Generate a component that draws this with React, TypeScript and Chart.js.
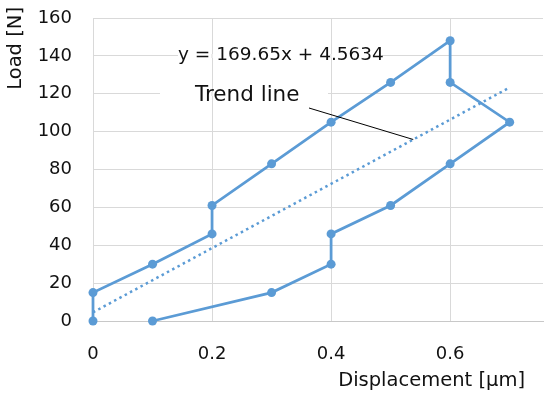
import React, { useEffect, useRef } from "react";
import { Chart, registerables } from "chart.js";

Chart.register(...registerables);

// ---- Data ----
const displacement = [0, 0, 0.1, 0.2, 0.2, 0.3, 0.4, 0.5, 0.6, 0.6, 0.7, 0.6, 0.5, 0.4, 0.4, 0.3, 0.1];
const load = [0, 15, 30, 46, 61, 83, 105, 126, 148, 126, 105, 83, 61, 46, 30, 15, 0];
const trendSlope = 169.65;
const trendIntercept = 4.5634;
const trendRange = [0, 0.7];
const leaderAnchorX = 0.538;
const xTicks = [0, 0.2, 0.4, 0.6];
const xMin = 0;
const xMax = 0.756;
const yMin = 0;
const yMax = 160;
const yStep = 20;
const equationLabel = "y = 169.65x + 4.5634";
const trendLabel = "Trend line";
const xTitle = "Displacement [\u03bcm]";
const yTitle = "Load [N]";

const BLUE = "#5b9bd5";
const GRID = "#d9d9d9";
const TEXT = "#111111";
const FONT = "'DejaVu Sans', sans-serif";
const FSIZE = 18;

export default function App() {
  const ref = useRef<HTMLCanvasElement | null>(null);

  useEffect(() => {
    document.body.style.margin = "0";
    const canvas = ref.current;
    if (!canvas) return;

    const mainData = displacement.map((x, i) => ({ x, y: load[i] }));
    const trendData = trendRange.map((x) => ({ x, y: trendSlope * x + trendIntercept }));

    const overlay = {
      id: "overlay",
      beforeDatasetsDraw(chart: any) {
        const ctx = chart.ctx;
        const a = chart.chartArea;
        const xs = chart.scales.x;
        const ys = chart.scales.y;
        ctx.save();
        // gridline segments hidden behind the labels
        const gaps = [
          { y: 140, x0: a.left + 85, x1: a.left + 289 },
          { y: 120, x0: a.left + 67, x1: a.left + 235 },
        ];
        gaps.forEach((g) => {
          const py = Math.round(ys.getPixelForValue(g.y));
          ctx.fillStyle = "#ffffff";
          ctx.fillRect(g.x0, py - 2, g.x1 - g.x0, 4);
          ctx.fillStyle = GRID;
          xTicks.forEach((t) => {
            const px = Math.round(xs.getPixelForValue(t));
            if (px > g.x0 && px < g.x1) ctx.fillRect(px - 0.5, py - 2, 1, 4);
          });
        });
        ctx.restore();
      },
      afterDraw(chart: any) {
        const ctx = chart.ctx;
        const a = chart.chartArea;
        const xs = chart.scales.x;
        const ys = chart.scales.y;
        ctx.save();
        ctx.fillStyle = TEXT;
        ctx.textBaseline = "middle";
        ctx.textAlign = "left";
        ctx.font = `18.5px ${FONT}`;
        ctx.fillText(equationLabel, a.left + 85, a.top + 37);
        ctx.font = `21.5px ${FONT}`;
        ctx.fillText(trendLabel, a.left + 102, a.top + 77);

        const ax = xs.getPixelForValue(leaderAnchorX);
        const ay = ys.getPixelForValue(trendSlope * leaderAnchorX + trendIntercept);
        ctx.strokeStyle = "#000000";
        ctx.lineWidth = 1;
        ctx.beginPath();
        ctx.moveTo(a.left + 216, a.top + 90);
        ctx.lineTo(ax, ay);
        ctx.stroke();

        ctx.font = `19.5px ${FONT}`;
        ctx.textAlign = "right";
        ctx.fillText(xTitle, a.right - 18, a.bottom + 60);
        ctx.translate(16, a.top - 11);
        ctx.rotate(-Math.PI / 2);
        ctx.textAlign = "right";
        ctx.fillText(yTitle, 0, 0);
        ctx.restore();
      },
    };

    const chart = new Chart(canvas, {
      type: "scatter",
      data: {
        datasets: [
          {
            data: mainData,
            showLine: true,
            borderColor: BLUE,
            backgroundColor: BLUE,
            borderWidth: 2.75,
            pointRadius: 4.5,
            pointBorderWidth: 0,
            pointHoverRadius: 4.5,
            clip: false,
            order: 1,
          },
          {
            data: trendData,
            showLine: true,
            borderColor: BLUE,
            borderWidth: 2.5,
            borderDash: [2.5, 3.5],
            pointRadius: 0,
            clip: false,
            order: 2,
          },
        ],
      },
      options: {
        responsive: false,
        animation: false,
        events: [],
        layout: { padding: { left: 0, right: 7, top: 18, bottom: 0 } },
        plugins: { legend: { display: false }, tooltip: { enabled: false } },
        scales: {
          x: {
            type: "linear",
            min: xMin,
            max: xMax,
            afterBuildTicks(scale: any) {
              scale.ticks = xTicks.map((v) => ({ value: v }));
            },
            afterFit(scale: any) {
              scale.height = 77;
              scale.paddingLeft = 0;
              scale.paddingRight = 0;
            },
            grid: { color: GRID, lineWidth: 1, drawTicks: false },
            border: { display: true, color: "#c8c8c8" },
            ticks: {
              padding: 23,
              color: TEXT,
              font: { family: FONT, size: FSIZE },
              maxRotation: 0,
              callback: (v: any) => String(Number(v)),
            },
          },
          y: {
            type: "linear",
            min: yMin,
            max: yMax,
            afterFit(scale: any) {
              scale.width = 93;
              scale.paddingTop = 0;
              scale.paddingBottom = 0;
            },
            grid: { color: GRID, lineWidth: 1, drawTicks: false },
            border: { display: false },
            ticks: {
              stepSize: yStep,
              padding: 21,
              color: TEXT,
              font: { family: FONT, size: FSIZE },
            },
          },
        },
      },
      plugins: [overlay],
    });

    return () => chart.destroy();
  }, []);

  return <canvas ref={ref} width={550} height={398} style={{ display: "block" }} />;
}
